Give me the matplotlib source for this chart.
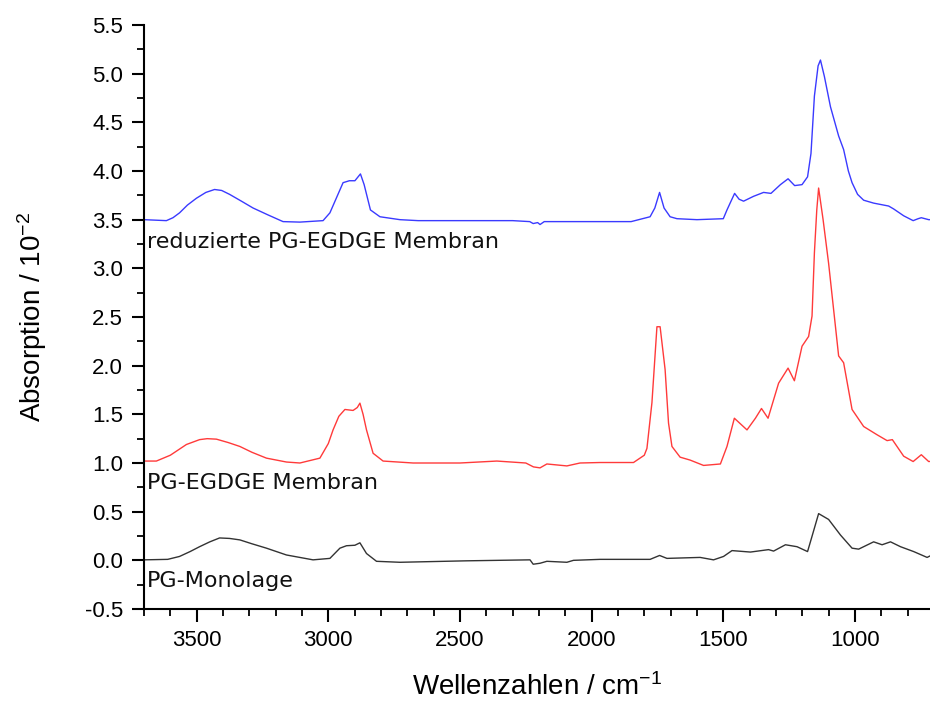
import numpy as np
import matplotlib
matplotlib.use('Agg')
import matplotlib.pyplot as plt
from matplotlib.ticker import MultipleLocator, FormatStrFormatter

# Wavenumbers (cm^-1) and absorbance (x 10^-2)
wn_reduziert = [3700, 3615, 3590, 3565, 3535, 3501, 3465, 3432, 3405, 3375, 3330, 3286, 3230,
                3172, 3108, 3020, 2994, 2944, 2920,
                2899, 2878, 2864, 2840, 2804, 2728, 2659, 2500, 2400, 2300, 2235, 2222, 2205,
                2196, 2180, 2100, 1968, 1850, 1778, 1760, 1742, 1725, 1702, 1676, 1600, 1500,
                1486, 1457, 1440, 1423, 1385, 1347, 1319, 1283, 1254, 1229, 1201, 1180, 1167,
                1154, 1140, 1131, 1116, 1093, 1062, 1043, 1025, 1011, 990, 967, 929, 872, 853,
                815, 779, 760, 748, 720, 700]
abs_reduziert = [3.50, 3.49, 3.52, 3.57, 3.65, 3.72, 3.78, 3.81, 3.80, 3.76, 3.69, 3.62, 3.55,
                 3.48, 3.475, 3.49, 3.57, 3.88, 3.90,
                 3.90, 3.97, 3.86, 3.60, 3.53, 3.50, 3.49, 3.49, 3.49, 3.49, 3.48, 3.46, 3.47,
                 3.45, 3.48, 3.48, 3.48, 3.48, 3.53, 3.62, 3.78, 3.62, 3.53, 3.51, 3.50, 3.51,
                 3.60, 3.77, 3.71, 3.69, 3.74, 3.78, 3.77, 3.86, 3.92, 3.85, 3.86, 3.94, 4.18,
                 4.77, 5.08, 5.14, 4.97, 4.66, 4.36, 4.22, 4.00, 3.88, 3.76, 3.70, 3.67, 3.64, 3.61,
                 3.54, 3.49, 3.51, 3.52, 3.50, 3.50]

wn_membran = [3700, 3653, 3600, 3539, 3489, 3460, 3425, 3380, 3336, 3290, 3235, 3159, 3108,
              3032, 3000, 2982,
              2960, 2937, 2906, 2890, 2880, 2868, 2855, 2830, 2792, 2678, 2500, 2360, 2250,
              2221, 2196, 2170, 2094, 2044, 1968, 1841, 1800, 1790, 1771, 1752, 1740, 1721,
              1708, 1695, 1664, 1626, 1575, 1511, 1486, 1458, 1410, 1378, 1355, 1330, 1290,
              1254, 1230, 1201, 1176, 1163, 1154, 1145, 1138, 1121, 1100, 1062, 1043, 1011,
              967, 916, 878, 858, 815, 779, 748, 720, 700]
abs_membran = [1.02, 1.02, 1.08, 1.19, 1.24, 1.25, 1.245, 1.21, 1.17, 1.11, 1.05, 1.01, 1.00,
               1.05, 1.20, 1.34,
               1.48, 1.55, 1.54, 1.57, 1.615, 1.50, 1.34, 1.10, 1.02, 1.00, 1.00, 1.02, 1.00,
               0.96, 0.95, 0.99, 0.97, 1.00, 1.005, 1.005, 1.08, 1.15, 1.62, 2.40, 2.40, 1.96,
               1.41, 1.17, 1.06, 1.03, 0.975, 0.99, 1.17, 1.46, 1.34, 1.46, 1.56, 1.46, 1.82,
               1.975, 1.845, 2.20, 2.30, 2.51, 3.16, 3.60, 3.825, 3.50, 3.05, 2.10, 2.03, 1.55,
               1.375, 1.29, 1.23, 1.24, 1.07, 1.015, 1.085, 1.015, 1.02]

wn_monolage = [3700, 3610, 3565, 3525, 3489, 3450, 3413, 3375, 3336, 3290, 3235, 3159, 3058,
               2994, 2956, 2931, 2899, 2880,
               2855, 2817, 2728, 2475, 2234, 2222, 2196, 2170, 2094, 2069, 1968, 1778, 1742,
               1714, 1588, 1537, 1499, 1467, 1397, 1328, 1309, 1264, 1220, 1180, 1167, 1138,
               1100, 1055, 1011, 986, 929, 897, 865, 827, 777, 726, 715, 700]
abs_monolage = [0.005, 0.01, 0.04, 0.09, 0.14, 0.19, 0.23, 0.225, 0.21, 0.17, 0.125, 0.055, 0.005,
                0.02, 0.125, 0.15, 0.155,
                0.18, 0.07, -0.01, -0.02, -0.005, 0.005, -0.04, -0.03, -0.01, -0.02, 0.0, 0.01,
                0.01, 0.05, 0.02, 0.03, 0.005, 0.04, 0.10, 0.085, 0.11, 0.095, 0.16, 0.14, 0.09,
                0.21, 0.48, 0.42, 0.26, 0.125, 0.115, 0.19, 0.16, 0.19, 0.14, 0.09, 0.03, 0.045,
                0.04]

labels = ['reduzierte PG-EGDGE Membran', 'PG-EGDGE Membran', 'PG-Monolage']
label_y = [3.27, 0.79, -0.21]

plt.rcParams['mathtext.default'] = 'regular'
plt.rcParams['font.family'] = ['Liberation Sans', 'DejaVu Sans']

fig = plt.figure(figsize=(9.3, 7.02), dpi=100)
ax = fig.add_axes([144 / 930, 93 / 702, 786 / 930, 584 / 702])

ax.plot(wn_reduziert, abs_reduziert, color='#3a3aff', lw=1.0)
ax.plot(wn_membran, abs_membran, color='#ff3a3a', lw=1.0)
ax.plot(wn_monolage, abs_monolage, color='#333333', lw=1.0)

for txt, yy in zip(labels, label_y):
    ax.text(3690, yy, txt, fontsize=16, family='DejaVu Sans', va='center', ha='left',
            color='#111111')

ax.set_xlim(3700, 715)
ax.set_ylim(-0.5, 5.5)
ax.xaxis.set_major_locator(MultipleLocator(500))
ax.xaxis.set_minor_locator(MultipleLocator(100))
ax.yaxis.set_major_locator(MultipleLocator(0.5))
ax.yaxis.set_minor_locator(MultipleLocator(0.25))
ax.yaxis.set_major_formatter(FormatStrFormatter('%.1f'))

for side in ['top', 'right']:
    ax.spines[side].set_visible(False)
for side in ['left', 'bottom']:
    ax.spines[side].set_linewidth(1.5)

ax.tick_params(which='major', direction='out', length=9, width=1.5, labelsize=16, pad=6)
ax.tick_params(which='minor', direction='out', length=5, width=1.3)

ax.set_xlabel('Wellenzahlen / cm$^{-1}$', fontsize=20, labelpad=16)
ax.set_ylabel('Absorption / 10$^{-2}$', fontsize=20, labelpad=26)

fig.savefig('out.png', dpi=100)
